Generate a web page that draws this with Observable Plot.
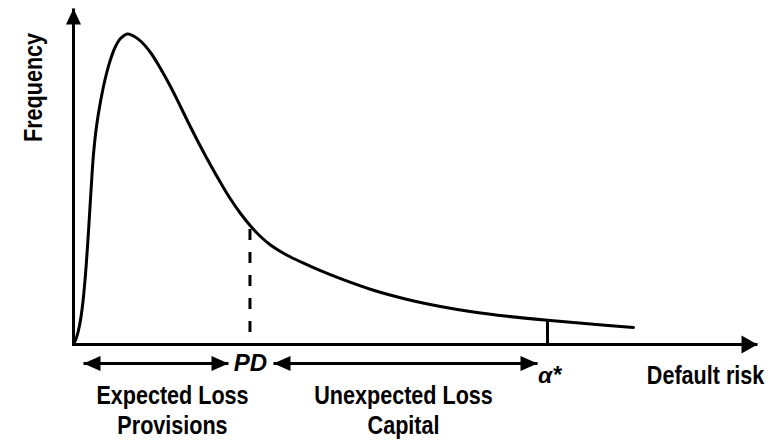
<!DOCTYPE html>
<html>
<head>
<meta charset="utf-8">
<script src="https://cdn.jsdelivr.net/npm/d3@7"></script>
<script src="https://cdn.jsdelivr.net/npm/@observablehq/plot@0.6"></script>
<style>
  html, body { margin: 0; padding: 0; background: #fff; }
  #chart svg { display: block; }
</style>
</head>
<body>
<div id="chart"></div>
<script>
// Loss distribution curve (default risk vs frequency)
const riskValues = [0, 0.44, 0.88, 1.32, 1.75, 2.19, 2.56, 2.92, 3.36, 3.95, 4.68, 5.41, 6.14, 6.87, 7.89, 8.77, 9.80, 11.26, 12.72, 14.18, 15.64, 17.11, 18.57, 20.03, 21.49, 22.95, 24.42, 25.88, 27.34, 28.80, 30.26, 31.73, 33.63, 36.11, 39.04, 43.86, 48.83, 53.65, 58.48, 63.45, 69.30, 75.58, 81.87];
const frequencyValues = [0, 2.08, 5.65, 11.61, 20.83, 33.63, 45.83, 56.55, 64.88, 72.32, 79.46, 84.82, 88.69, 91.07, 92.41, 91.82, 90.33, 86.90, 82.14, 76.79, 70.83, 64.73, 58.93, 53.42, 48.21, 43.30, 38.99, 35.27, 32.14, 29.61, 27.68, 26.04, 24.20, 21.96, 19.58, 16.13, 13.39, 11.31, 9.67, 8.39, 7.20, 6.10, 5.06];

// Markers on the risk axis
const pdRisk = 25.8;
const pdTop = 34.3;
const pdBottom = 3.6;
const alphaRisk = 69.3;
const alphaTop = 7.2;

// Ranges under the axis
const rangeLabels = ["Expected Loss", "Unexpected Loss"];
const rangeSubLabels = ["Provisions", "Capital"];
const rangeStart = [1.46, 29.24];
const rangeEnd = [22.66, 67.84];
const rangeCenter = [14.47, 48.25];

// Axis labels
const xAxisLabel = "Default risk";
const yAxisLabel = "Frequency";
const pdLabel = "PD";
const alphaLabel = "α*";

const curve = riskValues.map((r, i) => ({risk: r, freq: frequencyValues[i]}));
const arrows = rangeStart.map((s, i) => ({x1: s, x2: rangeEnd[i]}));
const labels = rangeLabels.map((t, i) => ({x: rangeCenter[i], t}));
const subLabels = rangeSubLabels.map((t, i) => ({x: rangeCenter[i], t}));

function filledArrow(len, half) {
  return () => {
    const m = d3.create("svg:marker")
      .attr("viewBox", `${-len} ${-half} ${len + 1} ${2 * half}`)
      .attr("markerUnits", "userSpaceOnUse")
      .attr("markerWidth", len + 1)
      .attr("markerHeight", 2 * half)
      .attr("orient", "auto-start-reverse")
      .attr("overflow", "visible");
    m.append("path")
      .attr("d", `M${-len},${-half}L0,0L${-len},${half}Z`)
      .attr("fill", "black")
      .attr("stroke", "none");
    return m.node();
  };
}

const font = "'Liberation Sans', Arial, sans-serif";

const plot = Plot.plot({
  width: 781,
  height: 440,
  marginLeft: 73,
  marginRight: 24,
  marginTop: 8,
  marginBottom: 96,
  x: {domain: [0, 100], axis: null},
  y: {domain: [0, 100], axis: null},
  style: {background: "white", overflow: "visible", fontFamily: font},
  marks: [
    // axes
    Plot.link([{x1: 0, y1: -0.45, x2: 0, y2: 100}], {x1: "x1", y1: "y1", x2: "x2", y2: "y2", stroke: "black", strokeWidth: 3, markerEnd: filledArrow(16, 7.5)}),
    Plot.link([{x1: 0, y1: 0, x2: 100, y2: 0}], {x1: "x1", y1: "y1", x2: "x2", y2: "y2", stroke: "black", strokeWidth: 3, markerEnd: filledArrow(16, 9)}),
    // curve
    Plot.line(curve, {x: "risk", y: "freq", curve: "catmull-rom", stroke: "black", strokeWidth: 3}),
    // PD dashed line
    Plot.ruleX([pdRisk], {y1: pdBottom, y2: pdTop, stroke: "black", strokeWidth: 3, strokeDasharray: "11,12"}),
    // alpha tick
    Plot.ruleX([alphaRisk], {y1: 0, y2: alphaTop, stroke: "black", strokeWidth: 3}),
    // double arrows under the axis
    Plot.link(arrows, {x1: "x1", x2: "x2", y1: -5.65, y2: -5.65, stroke: "black", strokeWidth: 3, markerStart: filledArrow(17, 7.5), markerEnd: filledArrow(17, 7.5)}),
    // labels
    Plot.text([pdLabel], {x: 25.88, y: -5.65, text: d => d, fontSize: 24, fontWeight: "bold", fontStyle: "italic", fill: "black"}),
    Plot.text([alphaLabel], {x: 69.59, y: -9.2, text: d => d, fontSize: 23, fontWeight: "bold", fontStyle: "italic", fill: "black"}),
    Plot.text([xAxisLabel], {x: 92.4, y: -9.2, text: d => d, fontSize: 26, fontWeight: "bold", fill: "black"}),
    Plot.text([yAxisLabel], {x: -5.85, y: 76.5, text: d => d, rotate: -90, fontSize: 26, fontWeight: "bold", fill: "black"}),
    Plot.text(labels, {x: "x", y: -15.2, text: "t", fontSize: 26, fontWeight: "bold", fill: "black"}),
    Plot.text(subLabels, {x: "x", y: -24.26, text: "t", fontSize: 26, fontWeight: "bold", fill: "black"})
  ]
});

document.getElementById("chart").appendChild(plot);

// Condense the upright labels along their reading direction (the original uses a narrow bold face)
const condensed = new Set([xAxisLabel, yAxisLabel, ...rangeLabels, ...rangeSubLabels]);
const k = 0.83;
Array.from(plot.querySelectorAll("text")).forEach((node) => {
  if (!condensed.has(node.textContent)) return;
  const r = node.getBoundingClientRect();
  const parent = node.parentNode;
  const ctm = parent.getScreenCTM();
  if (!ctm) return;
  const pt = plot.createSVGPoint();
  pt.x = r.left + r.width / 2;
  pt.y = r.top + r.height / 2;
  const p = pt.matrixTransform(ctm.inverse());
  const vertical = r.height > r.width;
  const g = document.createElementNS("http://www.w3.org/2000/svg", "g");
  g.setAttribute("transform", `translate(${p.x},${p.y}) scale(${vertical ? 1 : k},${vertical ? k : 1}) translate(${-p.x},${-p.y})`);
  parent.insertBefore(g, node);
  g.appendChild(node);
});
</script>
</body>
</html>
